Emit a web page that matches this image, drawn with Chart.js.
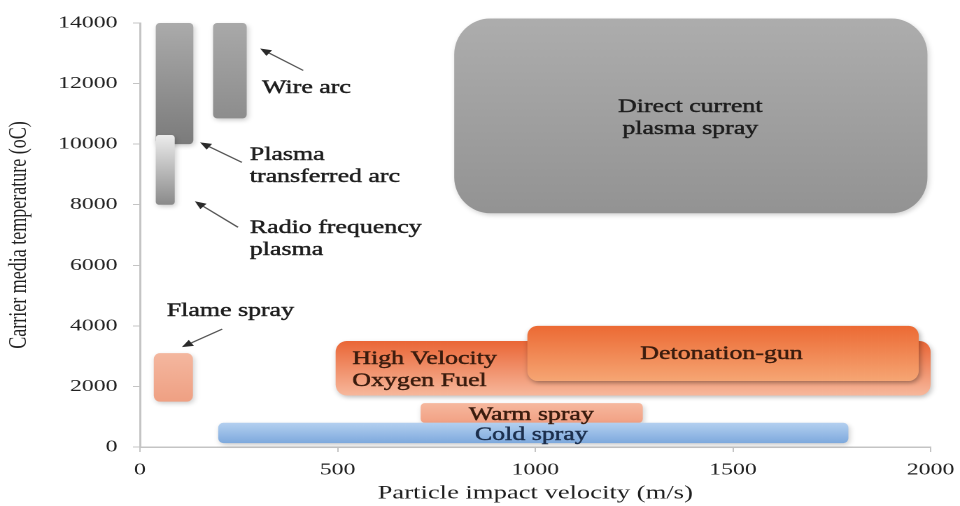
<!DOCTYPE html>
<html>
<head>
<meta charset="utf-8">
<script src="https://cdn.jsdelivr.net/npm/chart.js@4.4.1/dist/chart.umd.min.js"></script>
<style>
  html, body { margin: 0; padding: 0; background: #fff; overflow: hidden; }
  /* the reference figure is stretched sideways, so draw narrow and widen */
  #wrap { width: 686px; height: 506px; transform: scaleX(1.3994); transform-origin: 0 0; }
</style>
</head>
<body>
<div id="wrap"><canvas id="processChart"></canvas></div>
<script>
const STRETCH = 960 / 686;
const SERIF = '"Liberation Serif", "Times New Roman", serif';

// spray processes, velocity (m/s) and temperature (oC) ranges
const processNames = [
  "Direct current plasma spray",
  "Plasma transferred arc",
  "Radio frequency plasma",
  "Wire arc",
  "Flame spray",
  "High Velocity Oxygen Fuel",
  "Detonation-gun",
  "Warm spray",
  "Cold spray",
];
const velocityLow = [795, 40, 40, 185, 35, 495, 980, 710, 198];
const velocityHigh = [1992, 135, 88, 270, 134, 2000, 1970, 1272, 1792];
const tempLow = [7720, 10000, 8000, 10850, 1500, 1700, 2180, 800, 130];
const tempHigh = [14150, 14000, 10300, 14000, 3100, 3500, 4000, 1450, 800];

const velocityTicks = [0, 500, 1000, 1500, 2000];
const tempTicks = [0, 2000, 4000, 6000, 8000, 10000, 12000, 14000];

// box look
const boxTop = ["#adadad", "#ababab", "#ececec", "#a9a9a9", "#f4b79f", "#ea6636", "#ec6a34", "#f6b89e", "#b4d0f0"];
const boxBottom = ["#939393", "#7b7b7b", "#8a8a8a", "#8d8d8d", "#efa083", "#f7b89c", "#f6a674", "#f2a184", "#7ea9dd"];
const boxRadius = [36, 4, 3, 4, 6, 11, 10, 4, 5];
const boxShadow = [0.18, 0.2, 0.2, 0.2, 0.2, 0.25, 0.35, 0.2, 0.2];

// callout texts, placed in data units
const calloutText = [
  ["Direct current", "plasma spray"],
  ["Wire arc"],
  ["Plasma", "transferred arc"],
  ["Radio frequency", "plasma"],
  ["Flame spray"],
  ["High Velocity", "Oxygen Fuel"],
  ["Detonation-gun"],
  ["Warm spray"],
  ["Cold spray"],
];
const calloutX = [1392, 309, 278, 278, 68, 537, 1471, 990, 990];
const calloutY = [11214, 11850, 9630, 7223, 4485, 2902, 3067, 1055, 396];
const calloutAlign = ["center", "left", "left", "left", "left", "left", "center", "center", "center"];
const calloutColor = ["#1e1e1e", "#1e1e1e", "#1e1e1e", "#1e1e1e", "#1e1e1e", "#3a1c0e", "#3a1c0e", "#3a1c0e", "#1c2f4d"];

// arrows [fromX, fromY, toX, toY]
const arrows = [
  [413, 12434, 304, 13160],
  [258, 9400, 152, 10060],
  [248, 7256, 139, 8113],
  [208, 3892, 106, 3298],
];

function roundedBox(ctx, x, y, w, h, r) {
  const rx = Math.min(r / STRETCH, w / 2);
  const ry = Math.min(r, h / 2);
  ctx.beginPath();
  ctx.moveTo(x + rx, y);
  ctx.lineTo(x + w - rx, y);
  ctx.ellipse(x + w - rx, y + ry, rx, ry, 0, -Math.PI / 2, 0);
  ctx.lineTo(x + w, y + h - ry);
  ctx.ellipse(x + w - rx, y + h - ry, rx, ry, 0, 0, Math.PI / 2);
  ctx.lineTo(x + rx, y + h);
  ctx.ellipse(x + rx, y + h - ry, rx, ry, 0, Math.PI / 2, Math.PI);
  ctx.lineTo(x, y + ry);
  ctx.ellipse(x + rx, y + ry, rx, ry, 0, Math.PI, Math.PI * 1.5);
  ctx.closePath();
}

const boxPlugin = {
  id: "processBoxes",
  afterDatasetsDraw(chart) {
    const ctx = chart.ctx;
    const xs = chart.scales.x;
    const ys = chart.scales.y;
    const dpr = chart.currentDevicePixelRatio;

    processNames.forEach((name, i) => {
      const pts = chart.getDatasetMeta(i).data;
      const left = Math.min(pts[0].x, pts[1].x);
      const right = Math.max(pts[0].x, pts[1].x);
      const top = Math.min(pts[0].y, pts[1].y);
      const bottom = Math.max(pts[0].y, pts[1].y);
      const grad = ctx.createLinearGradient(0, top, 0, bottom);
      grad.addColorStop(0, boxTop[i]);
      grad.addColorStop(1, boxBottom[i]);
      ctx.save();
      ctx.shadowColor = "rgba(0,0,0," + boxShadow[i] + ")";
      ctx.shadowBlur = 4 * dpr;
      ctx.shadowOffsetX = 1 * dpr;
      ctx.shadowOffsetY = 2 * dpr;
      roundedBox(ctx, left, top, right - left, bottom - top, boxRadius[i]);
      ctx.fillStyle = grad;
      ctx.fill();
      ctx.restore();
    });

    // arrows
    ctx.save();
    ctx.strokeStyle = "#555";
    ctx.fillStyle = "#2a2a2a";
    ctx.lineWidth = 1.2;
    arrows.forEach((a) => {
      const x0 = xs.getPixelForValue(a[0]);
      const y0 = ys.getPixelForValue(a[1]);
      const x1 = xs.getPixelForValue(a[2]);
      const y1 = ys.getPixelForValue(a[3]);
      const ang = Math.atan2(y1 - y0, x1 - x0);
      const len = 8;
      const wid = 3.5;
      const bx = x1 - Math.cos(ang) * len;
      const by = y1 - Math.sin(ang) * len;
      ctx.beginPath();
      ctx.moveTo(x0, y0);
      ctx.lineTo(bx, by);
      ctx.stroke();
      ctx.beginPath();
      ctx.moveTo(x1, y1);
      ctx.lineTo(bx + Math.sin(ang) * wid, by - Math.cos(ang) * wid);
      ctx.lineTo(bx - Math.sin(ang) * wid, by + Math.cos(ang) * wid);
      ctx.closePath();
      ctx.fill();
    });
    ctx.restore();

    // callout texts, a thin stroke to get the heavier look of the figure
    ctx.save();
    ctx.font = "18.5px " + SERIF;
    ctx.textBaseline = "middle";
    ctx.lineWidth = 0.45;
    calloutText.forEach((lines, i) => {
      const x = xs.getPixelForValue(calloutX[i]);
      const y = ys.getPixelForValue(calloutY[i]);
      ctx.textAlign = calloutAlign[i];
      ctx.fillStyle = calloutColor[i];
      ctx.strokeStyle = calloutColor[i];
      lines.forEach((line, k) => {
        ctx.fillText(line, x, y + k * 22);
        ctx.strokeText(line, x, y + k * 22);
      });
    });
    ctx.restore();
  },
};

const ctx = document.getElementById("processChart");
new Chart(ctx, {
  type: "scatter",
  data: {
    datasets: processNames.map((name, i) => ({
      label: name,
      data: [
        { x: velocityLow[i], y: tempLow[i] },
        { x: velocityHigh[i], y: tempHigh[i] },
      ],
      pointRadius: 0,
      pointHoverRadius: 0,
      showLine: false,
    })),
  },
  options: {
    responsive: true,
    maintainAspectRatio: false,
    devicePixelRatio: 2,
    animation: false,
    events: [],
    layout: {
      padding: { top: 23, right: 21, bottom: 0, left: 0 },
    },
    scales: {
      x: {
        type: "linear",
        min: 0,
        max: 2000,
        afterBuildTicks: (scale) => {
          scale.ticks = velocityTicks.map((v) => ({ value: v }));
        },
        afterFit: (scale) => {
          scale.height = 59;
          scale.paddingLeft = 0;
          scale.paddingRight = 0;
        },
        grid: { drawOnChartArea: false, drawTicks: true, tickLength: 5, color: "#c4c4c4", lineWidth: 1 },
        border: { display: true, color: "#c4c4c4", width: 1.5 },
        ticks: {
          color: "#222",
          padding: 8,
          maxRotation: 0,
          font: { family: SERIF, size: 17 },
          callback: (v) => String(v),
        },
        title: {
          display: true,
          text: "Particle impact velocity (m/s)",
          color: "#1e1e1e",
          padding: { top: 0, bottom: 1 },
          font: { family: SERIF, size: 19 },
        },
      },
      y: {
        type: "linear",
        min: 0,
        max: 14000,
        afterBuildTicks: (scale) => {
          scale.ticks = tempTicks.map((v) => ({ value: v }));
        },
        afterFit: (scale) => {
          scale.width = 100;
        },
        grid: { drawOnChartArea: false, drawTicks: true, tickLength: 5, color: "#c4c4c4", lineWidth: 1 },
        border: { display: true, color: "#c4c4c4", width: 1.5 },
        ticks: {
          color: "#222",
          padding: 11,
          font: { family: SERIF, size: 17 },
          callback: (v) => String(v),
        },
        title: {
          display: true,
          text: "Carrier media temperature (oC)",
          color: "#222",
          padding: { top: 3, bottom: 0 },
          font: { family: SERIF, size: 18 },
        },
      },
    },
    plugins: {
      legend: { display: false },
      tooltip: { enabled: false },
    },
  },
  plugins: [boxPlugin],
});
</script>
</body>
</html>
